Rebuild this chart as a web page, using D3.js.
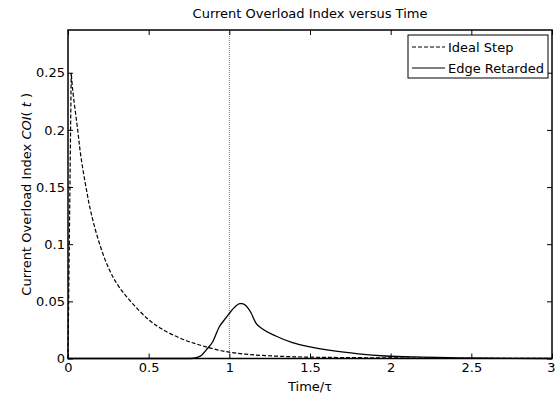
<!DOCTYPE html>
<html>
<head>
<meta charset="utf-8">
<script src="https://cdn.jsdelivr.net/npm/d3@7"></script>
<style>
  html, body { margin: 0; padding: 0; background: #fff; }
  svg { display: block; }
  text { font-family: "DejaVu Sans", sans-serif; fill: #000; }
</style>
</head>
<body>
<svg id="chart" width="557" height="397"></svg>
<script>
// ---- data ----
const idealX = [0, 0.02, 0.029, 0.06, 0.08, 0.111, 0.142, 0.193, 0.255, 0.317, 0.399, 0.502, 0.585, 0.70, 0.80, 0.90, 1.00, 1.10, 1.20, 1.40, 1.60, 2.00, 2.50, 3.00];
const idealY = [0, 0.250, 0.235, 0.200, 0.1766, 0.1503, 0.128, 0.1015, 0.078, 0.0625, 0.0483, 0.0337, 0.0255, 0.0175, 0.0125, 0.0085, 0.0055, 0.0038, 0.0027, 0.0015, 0.001, 0.0005, 0.0002, 0.0001];
const edgeX = [0, 0.76, 0.80, 0.83, 0.856, 0.897, 0.938, 0.969, 1.00, 1.03, 1.066, 1.08, 1.10, 1.134, 1.165, 1.206, 1.288, 1.391, 1.494, 1.638, 1.80, 1.967, 2.20, 2.40, 2.60, 3.00];
const edgeY = [0, 0, 0.001, 0.003, 0.0074, 0.0147, 0.0278, 0.0337, 0.0395, 0.0445, 0.048, 0.048, 0.0465, 0.040, 0.031, 0.0258, 0.0197, 0.0139, 0.0103, 0.0068, 0.0041, 0.0022, 0.0012, 0.0006, 0.0002, 0];
const xTicks = [0, 0.5, 1, 1.5, 2, 2.5, 3];
const yTicks = [0, 0.05, 0.1, 0.15, 0.2, 0.25];
const legendLabels = ["Ideal Step", "Edge Retarded"];
const titleText = "Current Overload Index versus Time";
const markerX = 1;

// ---- layout ----
const svg = d3.select("#chart");
const L = 68, R = 552, T = 30, B = 358.5;
const FS = "13px";
const x = d3.scaleLinear().domain([0, 3]).range([L, R]);
const y = d3.scaleLinear().domain([0, 0.2874]).range([B, T]);

// title
svg.append("text").attr("x", 310).attr("y", 18).attr("text-anchor", "middle")
  .style("font-size", FS).text(titleText);

// vertical dotted marker
svg.append("line").attr("x1", x(markerX)).attr("x2", x(markerX)).attr("y1", T).attr("y2", B)
  .attr("stroke", "#777").attr("stroke-width", 1).attr("stroke-dasharray", "1,1");

// curves
const smooth = d3.line().x(d => x(d[0])).y(d => y(d[1])).curve(d3.curveMonotoneX);
const soft = d3.line().x(d => x(d[0])).y(d => y(d[1])).curve(d3.curveCatmullRom.alpha(0.5));
const straight = d3.line().x(d => x(d[0])).y(d => y(d[1]));
const idealData = idealX.map((v, i) => [v, idealY[i]]);
const edgeData = edgeX.map((v, i) => [v, edgeY[i]]);
const idealPath = straight(idealData.slice(0, 2)) + soft(idealData.slice(1)).replace(/^M/, "L");
svg.append("path").attr("d", idealPath)
  .attr("fill", "none").attr("stroke", "#000").attr("stroke-width", 1.2).attr("stroke-dasharray", "4,2");
svg.append("path").datum(edgeData).attr("d", smooth)
  .attr("fill", "none").attr("stroke", "#000").attr("stroke-width", 1.3);

// axes (ticks inward, full box)
const tickLen = 5;
const gx = svg.append("g").attr("transform", `translate(0,${B})`)
  .call(d3.axisBottom(x).tickValues(xTicks).tickSize(-tickLen).tickPadding(4).tickFormat(d3.format("")));
gx.selectAll(".tick text").filter(d => d === 3).attr("dx", "-1");
const gxt = svg.append("g").attr("transform", `translate(0,${T})`)
  .call(d3.axisTop(x).tickValues(xTicks).tickSize(-tickLen).tickFormat(""));
const gy = svg.append("g").attr("transform", `translate(${L},0)`)
  .call(d3.axisLeft(y).tickValues(yTicks).tickSize(-tickLen).tickPadding(3).tickFormat(d3.format("")));
const gyr = svg.append("g").attr("transform", `translate(${R},0)`)
  .call(d3.axisRight(y).tickValues(yTicks).tickSize(-tickLen).tickFormat(""));
[gx, gxt, gy, gyr].forEach(g => {
  g.select(".domain").remove();
  g.selectAll("line").attr("stroke", "#000").attr("stroke-width", 1);
  g.selectAll("text").style("font-size", FS).style("font-family", "DejaVu Sans, sans-serif").attr("fill", "#000");
});
svg.append("rect").attr("x", L).attr("y", T).attr("width", R - L).attr("height", B - T)
  .attr("fill", "none").attr("stroke", "#000").attr("stroke-width", 1.5);

// axis labels
svg.append("text").attr("x", 310).attr("y", 391).attr("text-anchor", "middle")
  .style("font-size", FS).text("Time/τ");
const yl = svg.append("text").attr("transform", `translate(31,${(T + B) / 2}) rotate(-90)`)
  .attr("text-anchor", "middle").style("font-size", FS);
yl.append("tspan").text("Current Overload Index ");
yl.append("tspan").style("font-style", "italic").text("COI");
yl.append("tspan").text("( ");
yl.append("tspan").style("font-style", "italic").text("t");
yl.append("tspan").text(" )");

// legend
const lg = svg.append("g");
lg.append("rect").attr("x", 408).attr("y", 35).attr("width", 140).attr("height", 43)
  .attr("fill", "#fff").attr("stroke", "#000").attr("stroke-width", 1);
const styles = ["4,2", null];
legendLabels.forEach((lab, i) => {
  const yy = 47 + i * 21;
  lg.append("line").attr("x1", 412).attr("x2", 445).attr("y1", yy).attr("y2", yy)
    .attr("stroke", "#000").attr("stroke-width", 1.2).attr("stroke-dasharray", styles[i]);
  lg.append("text").attr("x", 448).attr("y", yy + 4.5).style("font-size", FS).text(lab);
});
</script>
</body>
</html>
